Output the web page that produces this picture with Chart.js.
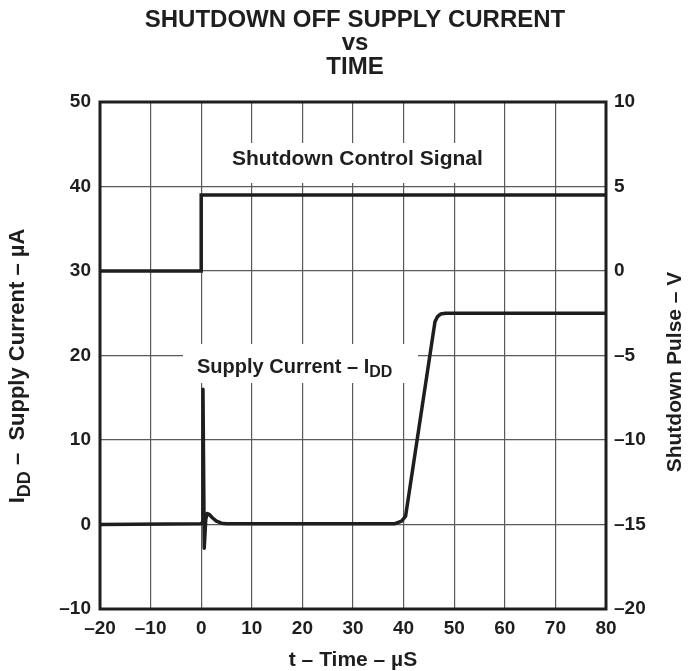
<!DOCTYPE html>
<html>
<head>
<meta charset="utf-8">
<script src="https://cdn.jsdelivr.net/npm/chart.js@4"></script>
<style>
  body { margin: 0; background: #fff; }
  #wrap { width: 696px; height: 671px; }
</style>
</head>
<body>
<div id="wrap"><canvas id="chart" width="696" height="671"></canvas></div>
<script>
// supply current trace (time in µs, current in µA)
const currentTime = [-20, 0, 0.3, 0.35, 0.6, 0.9, 1.2, 1.6, 2.2, 3.0, 4.0, 5.0, 38.3, 39.6, 40.4, 46.2, 46.7, 47.3, 48.3, 80];
const currentUA   = [0, 0.1, 0.3, 16, -2.8, 0.6, 1.3, 1.2, 0.8, 0.4, 0.15, 0.1, 0.1, 0.4, 1.0, 24.0, 24.6, 24.9, 25, 25];

// shutdown control signal (time in µs, volts)
const signalTime = [-20, 0, 0, 80];
const signalV    = [0, 0, 4.5, 4.5];

const titleLines = ["SHUTDOWN OFF SUPPLY CURRENT", "vs", "TIME"];
const FONT = "'Liberation Sans', Arial, Helvetica, sans-serif";
const INK = "#1e1e1e";

const toPoints = (xs, ys) => xs.map((x, i) => ({ x: x, y: ys[i] }));
const dash = (v) => String(v).replace("-", "\u2013");

// draws text with a subscript part, returns width
function drawSub(ctx, main, sub, x, y, size) {
  ctx.font = "bold " + size + "px " + FONT;
  ctx.fillText(main, x, y);
  const w = ctx.measureText(main).width;
  ctx.font = "bold " + Math.round(size * 0.8) + "px " + FONT;
  ctx.fillText(sub, x + w, y + size * 0.3);
  return w + ctx.measureText(sub).width;
}

const decorations = {
  id: "decorations",
  beforeDatasetsDraw(chart) {
    const ctx = chart.ctx;
    ctx.save();
    // white boxes behind the labels inside the plot
    ctx.fillStyle = "#fff";
    ctx.fillRect(226, 143, 272, 40);
    ctx.fillRect(183, 344, 235, 39);
    ctx.fillStyle = INK;
    ctx.textBaseline = "middle";
    ctx.textAlign = "left";
    ctx.font = "bold 21px " + FONT;
    ctx.fillText("Shutdown Control Signal", 232, 159);
    drawSub(ctx, "Supply Current \u2013 I", "DD", 197, 367, 20);
    ctx.restore();
  },
  afterDraw(chart) {
    const ctx = chart.ctx;
    const a = chart.chartArea;
    ctx.save();
    // frame
    ctx.strokeStyle = INK;
    ctx.lineWidth = 3;
    ctx.strokeRect(a.left, a.top, a.right - a.left, a.bottom - a.top);

    ctx.fillStyle = INK;
    ctx.textAlign = "center";
    ctx.textBaseline = "middle";
    ctx.font = "bold 24px " + FONT;
    titleLines.forEach((t, i) => ctx.fillText(t, 355, 20 + i * 23.5));

    // x title
    ctx.font = "bold 21px " + FONT;
    ctx.fillText("t \u2013 Time \u2013 \u00b5S", 353, 660);

    // right title
    ctx.save();
    ctx.translate(675, 372);
    ctx.rotate(-Math.PI / 2);
    ctx.fillText("Shutdown Pulse \u2013 V", 0, 0);
    ctx.restore();

    // left title with subscript
    ctx.save();
    ctx.translate(18, 366);
    ctx.rotate(-Math.PI / 2);
    ctx.textAlign = "left";
    ctx.font = "bold 22px " + FONT;
    let w = ctx.measureText("I").width;
    ctx.font = "bold 18px " + FONT;
    w += ctx.measureText("DD").width;
    ctx.font = "bold 22px " + FONT;
    w += ctx.measureText(" \u2013  Supply Current \u2013 \u00b5A").width;
    const x0 = -w / 2;
    const w1 = drawSub(ctx, "I", "DD", x0, 0, 22);
    ctx.font = "bold 22px " + FONT;
    ctx.fillText(" \u2013  Supply Current \u2013 \u00b5A", x0 + w1, 0);
    ctx.restore();
    ctx.restore();
  }
};

const tickFont = { family: FONT, size: 19, weight: "bold" };

new Chart(document.getElementById("chart"), {
  type: "line",
  data: {
    datasets: [
      {
        label: "Supply Current",
        data: toPoints(currentTime, currentUA),
        yAxisID: "y",
        borderColor: INK,
        borderWidth: 3.5,
        pointRadius: 0,
        tension: 0,
        borderJoinStyle: "round",
        fill: false,
      },
      {
        label: "Shutdown Control Signal",
        data: toPoints(signalTime, signalV),
        yAxisID: "y2",
        borderColor: INK,
        borderWidth: 3.5,
        pointRadius: 0,
        tension: 0,
        fill: false,
      },
    ],
  },
  options: {
    responsive: false,
    animation: false,
    layout: { padding: { top: 102, left: 0, right: 0, bottom: 0 } },
    plugins: {
      legend: { display: false },
      title: { display: false },
      tooltip: { enabled: false },
    },
    scales: {
      x: {
        type: "linear",
        min: -20,
        max: 80,
        ticks: { stepSize: 10, color: INK, font: tickFont, padding: 8, callback: dash, maxRotation: 0 },
        grid: { color: "#5a5a5a", lineWidth: 1.2, drawTicks: false },
        border: { display: false },
        afterFit(s) { s.height = 62; },
      },
      y: {
        position: "left",
        min: -10,
        max: 50,
        ticks: { stepSize: 10, color: INK, font: tickFont, padding: 9, callback: dash },
        grid: { color: "#5a5a5a", lineWidth: 1.2, drawTicks: false },
        border: { display: false },
        afterFit(s) { s.width = 100; },
      },
      y2: {
        position: "right",
        min: -20,
        max: 10,
        ticks: { stepSize: 5, color: INK, font: tickFont, padding: 8, callback: dash },
        grid: { display: false, drawTicks: false },
        border: { display: false },
        afterFit(s) { s.width = 90; },
      },
    },
  },
  plugins: [decorations],
});
</script>
</body>
</html>
